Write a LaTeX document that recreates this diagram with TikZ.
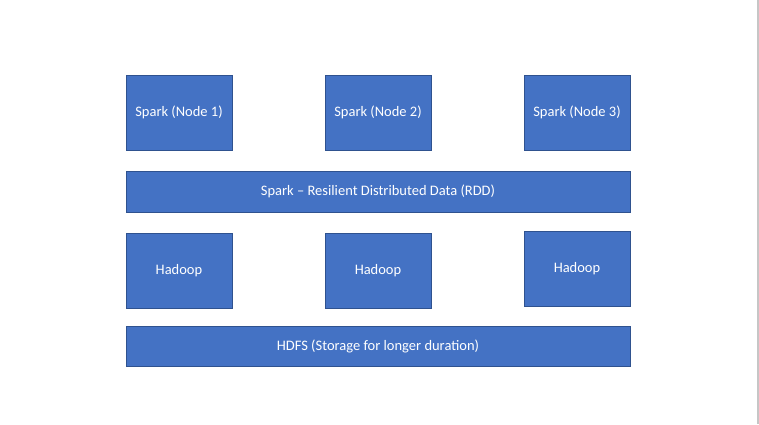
\documentclass[tikz,border=0pt]{standalone}
\usepackage{fontspec}
\setmainfont{Carlito}
\usetikzlibrary{positioning}
\definecolor{boxblue}{HTML}{4472C4}
\definecolor{boxedge}{HTML}{2F528F}

\begin{document}
\begin{tikzpicture}[x=1pt,y=-1pt,
  block/.style={draw=boxedge,fill=boxblue,text=white,line width=0.8pt,
    minimum width=106pt,minimum height=75pt,inner sep=0pt,
    font=\fontsize{14.5}{17}\selectfont},
  layer/.style={block,minimum width=504pt,minimum height=41pt}]
\useasboundingbox (0,0) rectangle (759,424);
\draw[gray!45,line width=1.2pt] (758,0)--(758,424);

% spark on each node
\node[block] (spark1) at (179,112.5) {Spark (Node 1)};
\node[block] (spark2) at (378,112.5) {Spark (Node 2)};
\node[block] (spark3) at (577,112.5) {Spark (Node 3)};

\node[layer] (rdd) at (378,191.5) {Spark -- Resilient Distributed Data (RDD)};

% hadoop under each node
\node[block] (hadoop1) at (179,270.5) {Hadoop};
\node[block] (hadoop2) at (378,270.5) {Hadoop};
\node[block] (hadoop3) at (577,268.5) {Hadoop};

\node[layer,minimum height=40pt] (hdfs) at (378,346) {HDFS (Storage for longer duration)};
\end{tikzpicture}
\end{document}
